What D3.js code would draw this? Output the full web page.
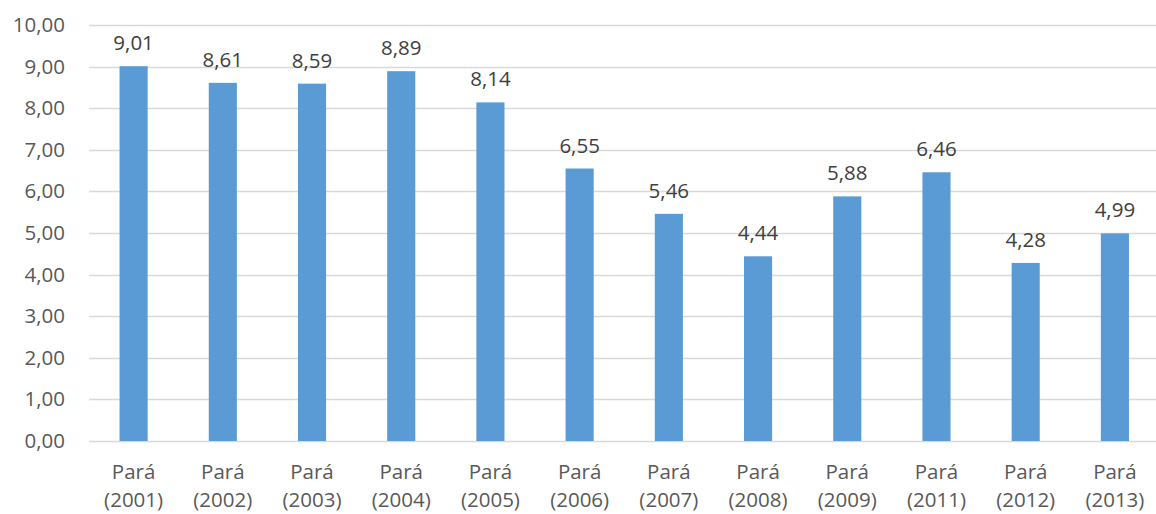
<!DOCTYPE html>
<html>
<head>
<meta charset="utf-8">
<script src="https://cdn.jsdelivr.net/npm/d3@7"></script>
<style>
  html, body { margin: 0; padding: 0; background: #fff; }
  svg { display: block; font-family: "Open Sans", sans-serif; }
</style>
</head>
<body>
<svg id="chart" width="1156" height="514"></svg>
<script>
// Taxa por ano — Pará
const regions = ["Pará", "Pará", "Pará", "Pará", "Pará", "Pará", "Pará", "Pará", "Pará", "Pará", "Pará", "Pará"];
const years = ["2001", "2002", "2003", "2004", "2005", "2006", "2007", "2008", "2009", "2011", "2012", "2013"];
const values = [9.01, 8.61, 8.59, 8.89, 8.14, 6.55, 5.46, 4.44, 5.88, 6.46, 4.28, 4.99];
const yTicks = [0, 1, 2, 3, 4, 5, 6, 7, 8, 9, 10];

const fmt = v => d3.format(".2f")(v).replace(".", ",");

const svg = d3.select("#chart");
const plotLeft = 89, plotRight = 1159.5, plotTop = 25, plotBottom = 441;
const fontSize = "20.5px";

const x = d3.scaleBand()
  .domain(years)
  .range([plotLeft, plotRight])
  .paddingInner(0.685)
  .paddingOuter(0.3425);

const y = d3.scaleLinear().domain([0, 10]).range([plotBottom, plotTop]);

// horizontal gridlines
svg.append("g")
  .selectAll("line")
  .data(yTicks)
  .join("line")
  .attr("x1", plotLeft)
  .attr("x2", 1156)
  .attr("y1", d => Math.round(y(d)) + 0.5)
  .attr("y2", d => Math.round(y(d)) + 0.5)
  .attr("stroke", "#d9d9d9")
  .attr("stroke-width", 1.5);

// y axis labels
const yAxis = d3.axisLeft(y).tickValues(yTicks).tickFormat(fmt).tickSize(0).tickPadding(0);
const gy = svg.append("g").attr("transform", "translate(65,0)").call(yAxis);
gy.select(".domain").remove();
gy.selectAll("text")
  .attr("fill", "#595959")
  .style("font-size", fontSize)
  .style("font-family", "Open Sans, sans-serif");

// bars
svg.append("g")
  .selectAll("rect")
  .data(values)
  .join("rect")
  .attr("x", (d, i) => x(years[i]))
  .attr("width", x.bandwidth())
  .attr("y", d => y(d))
  .attr("height", d => y(0) - y(d))
  .attr("fill", "#5b9bd5");

// value labels
svg.append("g")
  .selectAll("text")
  .data(values)
  .join("text")
  .attr("x", (d, i) => x(years[i]) + x.bandwidth() / 2)
  .attr("y", d => y(d) - 16)
  .attr("text-anchor", "middle")
  .attr("fill", "#404040")
  .style("font-size", fontSize)
  .text(d => fmt(d));

// category labels (two lines)
const cat = svg.append("g")
  .selectAll("text")
  .data(years)
  .join("text")
  .attr("text-anchor", "middle")
  .attr("fill", "#595959")
  .style("font-size", fontSize);
cat.append("tspan")
  .attr("x", d => x(d) + x.bandwidth() / 2)
  .attr("y", 479)
  .text((d, i) => regions[i]);
cat.append("tspan")
  .attr("x", d => x(d) + x.bandwidth() / 2)
  .attr("y", 507)
  .text(d => "(" + d + ")");
</script>
</body>
</html>
